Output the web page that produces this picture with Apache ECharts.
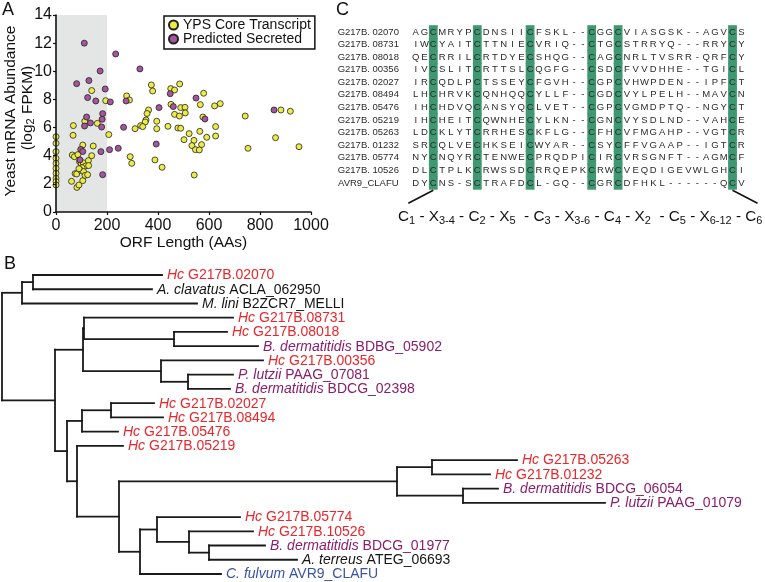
<!DOCTYPE html>
<html>
<head>
<meta charset="utf-8">
<script src="https://cdn.jsdelivr.net/npm/echarts@6/dist/echarts.min.js"></script>
<style>
  html, body { margin: 0; padding: 0; background: #fff; }
  #main { width: 765px; height: 582px; }
</style>
</head>
<body>
<div id="main"></div>
<script>
let myChart = echarts.init(document.getElementById('main'));
const FONT = 'Arial, "Liberation Sans", Helvetica, sans-serif';

// ---- panel A : ORF length vs yeast mRNA abundance ----
const coreTranscript = [
    [0, 5.35], [0, 4.88], [0, 4.29], [0, 3.81], [0, 3.46], [0, 3.1], [0, 2.75], [0, 2.39], [0, 2.16], [0, 1.92],
    [68, 6.14], [67, 5.45], [113, 6.45], [162, 6.3], [140, 8.63], [195, 7.91], [207, 5.5], [146, 4.69],
    [140, 4.0], [105, 4.76], [64, 4.05], [72, 3.93], [86, 4.08], [61, 2.18], [75, 2.73], [81, 2.7],
    [82, 1.75], [90, 1.92], [92, 3.58], [99, 3.44], [107, 3.5], [116, 3.27], [127, 3.65], [128, 3.3],
    [102, 3.15], [97, 2.96], [108, 2.87], [105, 2.23], [114, 2.6], [124, 2.65], [90, 3.08],
    [277, 8.25], [288, 7.96], [374, 9.03], [379, 8.6], [450, 8.77], [465, 8.67], [485, 9.1], [579, 8.44],
    [451, 7.65], [566, 7.63], [622, 7.54], [644, 7.7], [489, 7.42], [506, 7.44], [465, 6.94], [484, 6.82],
    [507, 7.04], [576, 6.75], [363, 7.25], [357, 7.0], [353, 6.54], [350, 6.4], [395, 6.45], [395, 5.92],
    [332, 6.14], [340, 6.07], [310, 5.92], [439, 6.09], [478, 5.97], [489, 5.95], [626, 6.07], [742, 6.82],
    [882, 7.25], [919, 7.16], [861, 5.28], [753, 4.53], [953, 4.64], [522, 5.57], [564, 5.73], [591, 5.31],
    [626, 5.4], [502, 5.14], [541, 5.09], [533, 4.72], [571, 4.79], [547, 4.43], [562, 4.41], [291, 3.93],
    [297, 3.46], [388, 3.7], [416, 3.18], [542, 2.63]
];
const predictedSecreted = [
    [111, 12.0], [234, 11.23], [329, 10.17], [173, 10.02], [81, 9.12], [129, 9.34], [193, 8.74], [124, 8.13],
    [156, 7.89], [213, 7.82], [275, 7.89], [120, 6.75], [135, 6.33], [112, 6.11], [183, 6.99], [181, 6.59],
    [179, 6.04], [265, 6.02], [404, 7.42], [448, 8.41], [460, 7.49], [549, 8.10], [584, 6.61], [393, 4.83],
    [244, 4.53], [210, 4.43], [176, 4.29], [97, 4.45], [105, 4.3], [94, 3.7], [183, 2.65], [855, 7.25]
];

// ---- panel B : tree (branch lengths in drawing units) ----
const leafLabels = [
    ['Hc', ' G217B.02070'], ['A. clavatus', ' ACLA_062950'], ['M. lini', ' B2ZCR7_MELLI'],
    ['Hc', ' G217B.08731'], ['Hc', ' G217B.08018'], ['B. dermatitidis', ' BDBG_05902'],
    ['Hc', ' G217B.00356'], ['P. lutzii', ' PAAG_07081'], ['B. dermatitidis', ' BDCG_02398'],
    ['Hc', ' G217B.02027'], ['Hc', ' G217B.08494'], ['Hc', ' G217B.05476'], ['Hc', ' G217B.05219'],
    ['Hc', ' G217B.05263'], ['Hc', ' G217B.01232'], ['B. dermatitidis', ' BDCG_06054'],
    ['P. lutzii', ' PAAG_01079'], ['Hc', ' G217B.05774'], ['Hc', ' G217B.10526'],
    ['B. dermatitidis', ' BDCG_01977'], ['A. terreus', ' ATEG_06693'], ['C. fulvum', ' AVR9_CLAFU']
];
const leafGroup = ['hc', 'other', 'other', 'hc', 'hc', 'dimorph', 'hc', 'dimorph', 'dimorph', 'hc', 'hc', 'hc',
    'hc', 'hc', 'hc', 'dimorph', 'dimorph', 'hc', 'hc', 'dimorph', 'other', 'clafu'];
const groupColor = { hc: '#e8262b', dimorph: '#8b1d6c', other: '#151515', clafu: '#3a54a4' };
const treeNewick =
    '(((L0:129,L1:119):11,L2:175):20,' +
    '(((L3:149,(L4:53,L5:84):90):1,(L6:102,(L7:45,L8:42):27):78):28,' +
    '(((L9:43,L10:52):29,L11:36):15,' +
    '(L12:46,(((L13:85,L14:58):35,(L15:35,L16:142):66):278,' +
    '((L17:83,(L18:64,(L19:56,L20:88):20):32):17,L21:81):21):42):10):12):53);';

// ---- panel C : alignment ----
const alignNames = ['G217B. 02070', 'G217B. 08731', 'G217B. 08018', 'G217B. 00356', 'G217B. 02027',
    'G217B. 08494', 'G217B. 05476', 'G217B. 05219', 'G217B. 05263', 'G217B. 01232', 'G217B. 05774',
    'G217B. 10526', 'AVR9_CLAFU'];
const alignSeqs = [
    'AGCMRYPCDNSIICFSKL--CGGCVIASGSK--AGVCS',
    'IWCYAITCTTNIECVRIQ--CTGCSTRRYQ---RRYCY',
    'QECRRILCRTDYECSHQG--CAGCNRLTVSRR-QRFCY',
    'IVCSLITCRTTSLCQGFG--CSDCFVVDHHE--TGICL',
    'IRCQDLPCTSSEYCFGVH--CGPCVHWPDEN--IPFCT',
    'LHCHRVKCQNHQQCYLLF--CGDCVYLPELH--MAVCN',
    'IHCHDVQCANSYQCLVET--CGPCVGMDPTQ--NGYCT',
    'IHCHEITCQWNHECYLKN--CGNCVYSDLND--VAHCE',
    'LDCKLYTCRRHESCKFLG--CFHCVFMGAHP--VGTCR',
    'SRCQLVECHKSEICWYAR--CSYCFFVGAAP--IGTCR',
    'NYCNQYRCTENWECPRQDPICIRCVRSGNFT--AGMCF',
    'DLCTPLKCRWSSDCRRQEPKCRWCVEQDIGEVWLGHCI',
    'DYCNS-SCTRAFDCL-GQ--CGRCDFHKL------QCV'
];
const cysColumns = [3, 8, 14, 21, 24, 37];

// 解析树
function parseNewick(str) {
    const s = str.replace(/\s/g, '');
    let i = 0;
    function node() {
        const n = { children: [] };
        if (s[i] === '(') {
            i++;
            n.children.push(node());
            while (s[i] === ',') { i++; n.children.push(node()); }
            i++;
        }
        let name = '';
        while (i < s.length && ':,();'.indexOf(s[i]) < 0) name += s[i++];
        n.name = name;
        n.len = 0;
        if (s[i] === ':') {
            i++;
            let num = '';
            while (i < s.length && ',();'.indexOf(s[i]) < 0) num += s[i++];
            n.len = parseFloat(num);
        }
        return n;
    }
    return node();
}

const treeNodes = [];
function layoutTree(n, parentX) {
    const x = parentX + n.len;
    if (!n.children.length) {
        const idx = parseInt(n.name.slice(1), 10);
        n.y = idx;
        treeNodes.push([parentX, x, idx, idx, idx, idx]);
        return n.y;
    }
    const ys = n.children.map(c => layoutTree(c, x));
    n.y = (ys[0] + ys[ys.length - 1]) / 2;
    treeNodes.push([parentX, x, n.y, ys[0], ys[ys.length - 1], -1]);
    return n.y;
}
layoutTree(parseNewick(treeNewick), 0);

const alignCells = [];
alignSeqs.forEach((seq, r) => {
    for (let c = 0; c < seq.length; c++) alignCells.push([c, r]);
});

const lineStyle = { stroke: '#1a1a1a', lineWidth: 1.8, lineCap: 'square' };

function renderTree(params, api) {
    const xp = api.value(0), x = api.value(1), y = api.value(2);
    const leaf = api.value(5);
    const a = api.coord([xp, y]), b = api.coord([x, y]);
    const children = [{ type: 'line', shape: { x1: a[0], y1: a[1], x2: b[0], y2: b[1] }, style: lineStyle }];
    if (leaf < 0) {
        const t = api.coord([x, api.value(3)]), u = api.coord([x, api.value(4)]);
        children.push({ type: 'line', shape: { x1: t[0], y1: t[1], x2: u[0], y2: u[1] }, style: lineStyle });
    } else {
        const lab = leafLabels[leaf];
        const col = groupColor[leafGroup[leaf]];
        children.push({
            type: 'text', x: b[0] + 5, y: b[1] + 0.5,
            style: {
                text: '{i|' + lab[0] + '}{n|' + lab[1] + '}',
                rich: {
                    i: { fontStyle: 'italic', fontSize: 14, fontFamily: FONT, fill: col },
                    n: { fontSize: 14, fontFamily: FONT, fill: col }
                },
                fill: col, align: 'left', verticalAlign: 'middle'
            }
        });
    }
    return { type: 'group', children: children };
}

function renderAlign(params, api) {
    const idx = params.dataIndex;
    const r = alignCells[idx][1], c = alignCells[idx][0];
    const p = api.coord([c, r]);
    const sz = api.size([1, 1]);
    const children = [];
    const isCys = cysColumns.indexOf(c + 1) >= 0;
    if (isCys) {
        children.push({
            type: 'rect',
            shape: { x: p[0] - sz[0] / 2, y: p[1] - sz[1] / 2 - 0.5, width: sz[0], height: sz[1] + 1 },
            style: { fill: '#3f9872' }
        });
    }
    children.push({
        type: 'text', x: p[0], y: p[1],
        style: { text: alignSeqs[r][c], fontSize: 9.5, fontFamily: FONT, fill: '#2a2a2a', align: 'center', verticalAlign: 'middle' }
    });
    if (r === alignSeqs.length - 1 && (c + 1 === cysColumns[0] || c + 1 === cysColumns[cysColumns.length - 1])) {
        const bottom = p[1] + sz[1] / 2 + 1;
        const dir = c + 1 === cysColumns[0] ? -1 : 1;
        children.push({
            type: 'line',
            shape: { x1: p[0], y1: bottom, x2: p[0] + dir * 25, y2: bottom + 13 },
            style: { stroke: '#111', lineWidth: 1.6 }
        });
    }
    return { type: 'group', children: children };
}

option = {
    backgroundColor: '#fff',
    animation: false,
    textStyle: { fontFamily: FONT },
    grid: [
        { left: 56, top: 15, width: 255, height: 197 },
        { left: 2, top: 275, width: 760, height: 299 },
        { left: 411.3, top: 25.7, width: 334.4, height: 163.5 }
    ],
    legend: {
        data: ['YPS Core Transcript', 'Predicted Secreted'],
        left: 164, top: 16,
        orient: 'vertical',
        backgroundColor: '#fff',
        borderColor: '#111', borderWidth: 1.5, borderRadius: 0,
        padding: [2, 4, 3, 4],
        itemGap: 0,
        itemWidth: 9, itemHeight: 9,
        icon: 'circle',
        textStyle: { fontSize: 14, lineHeight: 14, color: '#111', fontFamily: FONT }
    },
    xAxis: [
        {
            gridIndex: 0, type: 'value', min: 0, max: 1000, interval: 200, z: 5,
            name: 'ORF Length (AAs)', nameLocation: 'middle', nameGap: 23,
            nameTextStyle: { fontSize: 15.5, color: '#111', fontFamily: FONT },
            axisLine: { lineStyle: { color: '#111', width: 1.6 } },
            axisTick: { show: true, length: 3, lineStyle: { color: '#111', width: 1.2 } },
            axisLabel: { fontSize: 16, color: '#111', margin: 6, fontFamily: FONT, formatter: v => String(v) },
            splitLine: { show: false }
        },
        { gridIndex: 1, type: 'value', min: 0, max: 760, show: false },
        {
            gridIndex: 2, type: 'category', data: alignSeqs[0].split('').map((d, i) => i + 1),
            show: false
        }
    ],
    yAxis: [
        {
            gridIndex: 0, type: 'value', min: 0, max: 14, interval: 2, z: 5,
            axisLine: { show: true, lineStyle: { color: '#111', width: 1.6 } },
            axisTick: { show: true, length: 3, lineStyle: { color: '#111', width: 1.2 } },
            axisLabel: { fontSize: 16, color: '#111', margin: 4, fontFamily: FONT },
            splitLine: { show: false }
        },
        { gridIndex: 1, type: 'value', min: 0, max: 21, inverse: true, show: false },
        {
            gridIndex: 2, type: 'category', data: alignNames, inverse: true,
            axisLine: { show: false }, axisTick: { show: false }, splitLine: { show: false },
            axisLabel: { interval: 0, align: 'center', margin: 43, fontSize: 9.5, color: '#2a2a2a', fontFamily: FONT }
        }
    ],
    series: [
        {
            name: 'YPS Core Transcript', type: 'scatter', xAxisIndex: 0, yAxisIndex: 0,
            data: coreTranscript, symbolSize: 6,
            itemStyle: { color: '#ecec44', borderColor: '#222', borderWidth: 0.8, opacity: 1 },
            markArea: {
                silent: true,
                itemStyle: { color: '#e4e6e6' },
                data: [[{ xAxis: 0 }, { xAxis: 200 }]]
            }
        },
        {
            name: 'Predicted Secreted', type: 'scatter', xAxisIndex: 0, yAxisIndex: 0,
            data: predictedSecreted, symbolSize: 6,
            itemStyle: { color: '#a5559c', borderColor: '#222', borderWidth: 0.8, opacity: 1 }
        },
        {
            type: 'custom', xAxisIndex: 1, yAxisIndex: 1, silent: true,
            data: treeNodes, renderItem: renderTree
        },
        {
            type: 'custom', xAxisIndex: 2, yAxisIndex: 2, silent: true,
            data: alignCells, renderItem: renderAlign
        }
    ],
    graphic: [
        { type: 'text', left: 2, top: 1, style: { text: 'A', fontSize: 18, fontFamily: FONT, fill: '#111' } },
        { type: 'text', left: 4, top: 255, style: { text: 'B', fontSize: 18, fontFamily: FONT, fill: '#111' } },
        { type: 'text', left: 336, top: 1, style: { text: 'C', fontSize: 18, fontFamily: FONT, fill: '#111' } },
        {
            type: 'text', x: 11, y: 111, rotation: Math.PI / 2,
            style: { text: 'Yeast mRNA Abundance', fontSize: 15.5, fontFamily: FONT, fill: '#111', align: 'center', verticalAlign: 'middle' }
        },
        {
            type: 'text', x: 28, y: 108, rotation: Math.PI / 2,
            style: {
                text: '{m|(log}{s|2}{m| FPKM)}',
                rich: {
                    m: { fontSize: 15.5, lineHeight: 17, fontFamily: FONT, fill: '#111' },
                    s: { fontSize: 11, lineHeight: 11, verticalAlign: 'bottom', fontFamily: FONT, fill: '#111' }
                },
                align: 'center', verticalAlign: 'middle'
            }
        },
        {
            type: 'text', x: 398, y: 217,
            style: {
                text: '{c|C}{s|1}{c| - X}{s|3-4}{c| - C}{s|2}{c| - X}{s|5}{c|  - C}{s|3}{c| - X}{s|3-6}' +
                    '{c| - C}{s|4}{c| - X}{s|2}{c|  - C}{s|5}{c| - X}{s|6-12}{c| - C}{s|6}',
                rich: {
                    c: { fontSize: 15.3, lineHeight: 18, fontFamily: FONT, fill: '#111' },
                    s: { fontSize: 11, lineHeight: 11, verticalAlign: 'bottom', fontFamily: FONT, fill: '#111' }
                },
                align: 'left', verticalAlign: 'middle'
            }
        }
    ]
};
// 使用刚指定的配置项和数据显示图表。
myChart.setOption(option);
</script>
</body>
</html>
